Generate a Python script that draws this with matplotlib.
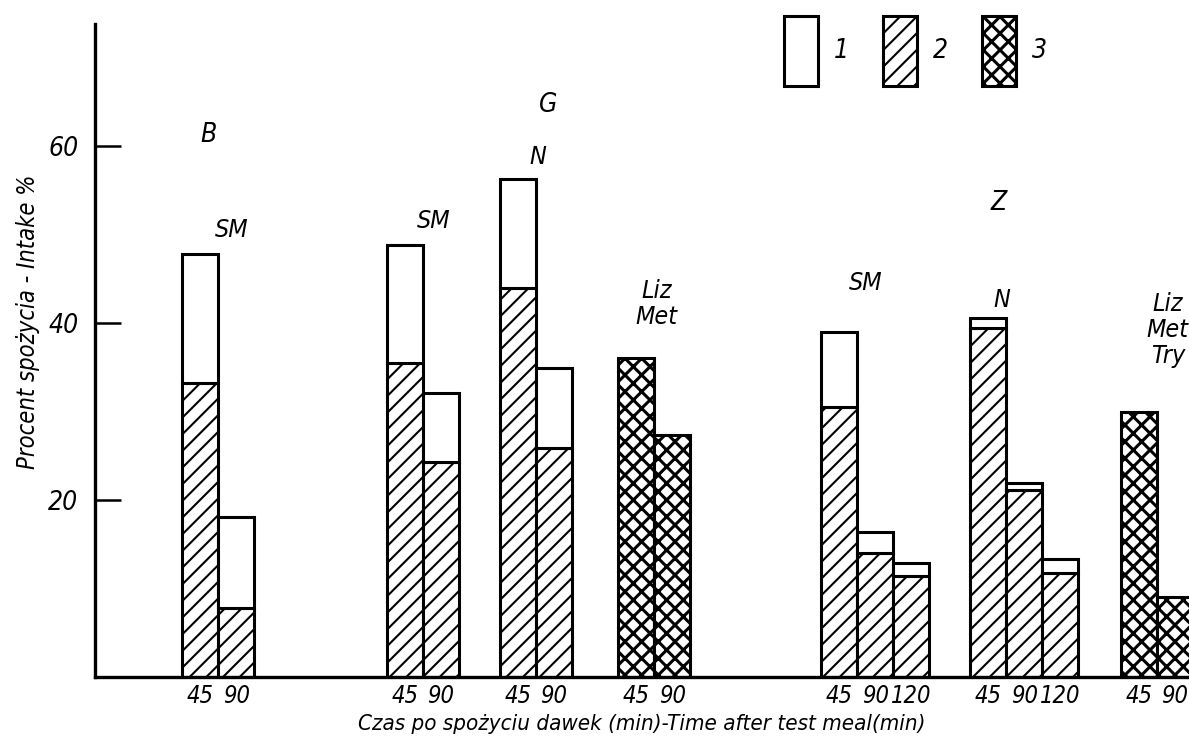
import numpy as np
import matplotlib
matplotlib.use("Agg")
import matplotlib.pyplot as plt
from matplotlib.patches import Patch

# Intake (%), one list per bar group
group_names = ["SM", "SM", "N", "Liz\nMet", "SM", "N", "Liz\nMet\nTry"]
time_labels = [["45", "90"], ["45", "90"], ["45", "90"], ["45", "90"],
               ["45", "90", "120"], ["45", "90", "120"], ["45", "90"]]
total_intake = [[47.8, 18.1], [48.8, 32.1], [56.3, 34.9], [36.0, 27.3],
                [39.0, 16.4, 12.9], [40.6, 21.9, 13.3], [30.0, 9.0]]
part2_intake = [[33.2, 7.8], [35.5, 24.3], [44.0, 25.9], None,
                [30.5, 14.0, 11.4], [39.4, 21.1, 11.8], None]
# groups with None above are drawn as type 3 (cross-hatched) for the whole bar
diet_labels = ["B", "G", "Z"]
legend_labels = ["1", "2", "3"]

# layout (bar widths = 1 unit)
group_start = [2.42, 8.11, 11.25, 14.53, 20.17, 24.31, 28.5]
name_xy = [(3.8, 50.5), (9.4, 51.5), (12.3, 58.8), (15.6, 42.2),
           (21.4, 44.5), (25.2, 42.6), (29.8, 39.2)]
diet_xy = [(3.14, 61.2), (12.6, 64.6), (25.1, 53.6)]

plt.rcParams["font.family"] = ["DejaVu Sans"]
plt.rcParams["font.stretch"] = "condensed"
plt.rcParams["font.style"] = "italic"
plt.rcParams["hatch.linewidth"] = 1.5
plt.rcParams["hatch.color"] = "black"

fig = plt.figure(figsize=(11.89, 7.54), dpi=100)
ax = fig.add_axes([95 / 1189, 77 / 754, 1094 / 1189, 653 / 754])


def thick_hatch(bars):
    for b in bars:
        if hasattr(b, "set_hatch_linewidth"):
            b.set_hatch_linewidth(2.2)


lw = 2.2
tick_pos, tick_txt = [], []
for g, start in enumerate(group_start):
    n = len(total_intake[g])
    xs = start + np.arange(n) + 0.5
    tot = np.array(total_intake[g])
    if part2_intake[g] is None:
        bars = ax.bar(xs, tot, width=1.0, facecolor="white", edgecolor="black",
                      linewidth=lw, hatch="xx")
        thick_hatch(bars)
    else:
        p2 = np.array(part2_intake[g])
        ax.bar(xs, p2, width=1.0, facecolor="white", edgecolor="black",
               linewidth=lw, hatch="//")
        ax.bar(xs, tot - p2, bottom=p2, width=1.0, facecolor="white",
               edgecolor="black", linewidth=lw)
    tick_pos += list(xs)
    tick_txt += time_labels[g]
    ax.text(name_xy[g][0], name_xy[g][1], group_names[g], ha="center",
            va="center", fontsize=18, linespacing=1.1)

for d, (x, y) in zip(diet_labels, diet_xy):
    ax.text(x, y, d, ha="center", va="center", fontsize=19)

ax.set_xlim(0, 1094 / 36)
ax.set_ylim(0, 73.8)
ax.set_xticks(tick_pos)
ax.set_xticklabels(tick_txt, fontsize=17)
ax.tick_params(axis="x", length=0, pad=5)
ax.set_yticks([20, 40, 60])
ax.set_yticklabels(["20", "40", "60"], fontsize=19)
ax.tick_params(axis="y", direction="in", length=19, width=1.8, pad=12)

for s in ["top", "right"]:
    ax.spines[s].set_visible(False)
for s in ["left", "bottom"]:
    ax.spines[s].set_linewidth(2.4)

ax.set_ylabel("Procent spożycia - Intake %", fontsize=17)
ax.yaxis.set_label_coords(-0.050, 0.544)
ax.set_xlabel("Czas po spożyciu dawek (min)-Time after test meal(min)",
              fontsize=16, labelpad=4)

handles = [Patch(facecolor="white", edgecolor="black", linewidth=lw),
           Patch(facecolor="white", edgecolor="black", linewidth=lw, hatch="//"),
           Patch(facecolor="white", edgecolor="black", linewidth=lw, hatch="xx")]
leg = fig.legend(handles, legend_labels, loc="upper left",
                 bbox_to_anchor=(760 / 1189, 1 + 8 / 754), ncol=3, frameon=False,
                 fontsize=19, handlelength=1.3, handleheight=3.7,
                 handletextpad=0.6, columnspacing=1.28)
thick_hatch(leg.get_patches()[2:])

fig.savefig("out.png", dpi=100)
